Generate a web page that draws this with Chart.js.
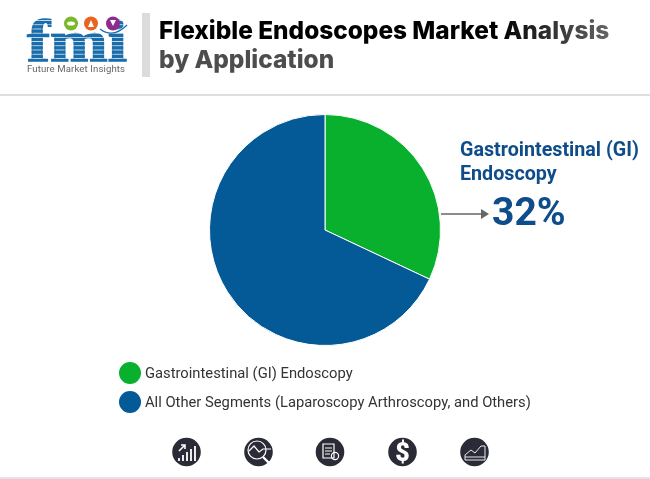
<!DOCTYPE html>
<html><head><meta charset="utf-8">
<script src="https://cdn.jsdelivr.net/npm/chart.js@4"></script>
<style>
html,body{margin:0;padding:0;background:#fff;width:650px;height:479px;overflow:hidden;font-family:Roboto,sans-serif}
.a{position:absolute;white-space:nowrap}
#c{position:absolute;left:0;top:0}
.dot{position:absolute;width:22px;height:22px;border-radius:50%}
.leg{font-size:14.75px;color:#333}
.t{font-family:Inter,sans-serif;font-weight:800;font-size:24.4px;line-height:29px}
</style></head><body>
<canvas id="c" width="650" height="479" style="width:650px;height:479px"></canvas>

<svg class="a" style="left:25px;top:15px" width="110" height="62" viewBox="25 15 110 62">
  <defs><pattern id="st" width="4" height="4.2" patternUnits="userSpaceOnUse"><rect width="4" height="3.5" fill="#1a6dab"/></pattern></defs>
  <text x="27" y="61" font-family="Liberation Serif" font-weight="700" font-size="60" textLength="100" lengthAdjust="spacingAndGlyphs" fill="url(#st)" stroke="url(#st)" stroke-width="1.4">fmi</text>
  <circle cx="71" cy="23.5" r="7" fill="#7ab929"/><ellipse cx="71" cy="23.5" rx="4" ry="2" fill="#fff"/>
  <circle cx="91" cy="23.5" r="7" fill="#e8641f"/><path d="M88 27l3-7 3 7z" fill="#fff"/>
  <circle cx="113" cy="23.5" r="7" fill="#8e2c8e"/><path d="M110 20h6l-3 6z" fill="#fff"/>
  <path d="M100 29q13 10 27-4" fill="none" stroke="#1a6dab" stroke-width="1.2"/>
  <text x="27" y="72" font-family="Roboto" font-size="9.6" fill="#666" textLength="98">Future Market Insights</text>
</svg>
<div class="a" style="left:142px;top:13px;width:8px;height:64px;background:#dcdcdc"></div>
<div class="a t" style="left:159px;top:16px;background:linear-gradient(90deg,#000 0,#000 340px,#666 450px);-webkit-background-clip:text;background-clip:text;color:transparent">Flexible Endoscopes Market Analysis</div>
<div class="a t" style="left:159px;top:45px;color:#4d4d4d">by Application</div>
<div class="a" style="left:0;top:94px;width:650px;height:2px;background:#dedede"></div>

<div class="a" style="left:460px;top:138px;font-size:19.7px;font-weight:700;line-height:24px;color:#0f4c8a">Gastrointestinal (GI)<br>Endoscopy</div>
<svg class="a" style="left:440px;top:205px" width="50" height="18"><path d="M1 9H42" stroke="#666" stroke-width="1.6"/><path d="M41 4l8 5-8 5z" fill="#666"/></svg>
<div class="a" style="left:492px;top:190px;font-size:39px;font-weight:700;line-height:44px;color:#0f4c8a">32%</div>

<div class="dot" style="left:119px;top:362px;background:#08b02e"></div>
<div class="a leg" style="left:145px;top:364px">Gastrointestinal (GI) Endoscopy</div>
<div class="dot" style="left:119px;top:391px;background:#035a96"></div>
<div class="a leg" style="left:145px;top:393px">All Other Segments (Laparoscopy Arthroscopy, and Others)</div>

<svg class="a" style="left:0;top:430px" width="650" height="40" fill="none" stroke="#fff" stroke-width="1.2">
  <g fill="#2b2b38" stroke="none"><circle cx="186.5" cy="22" r="14.3"/><circle cx="258.5" cy="22" r="14.3"/><circle cx="330" cy="22" r="14.3"/><circle cx="402.5" cy="22" r="14.3"/><circle cx="474.5" cy="22" r="14.3"/></g>
  <path d="M179 31v-3M183 31v-6M187 31v-9M191 31v-12M195 31v-15" stroke-width="1.8"/><path d="M179 21l6-6M181 15h4v4" stroke-width="1.6"/>
  <circle cx="257" cy="20" r="9"/><path d="M249 21l5-5 5 6 4-3h8"/><path d="M263 27l6 6" stroke-width="2.4"/>
  <path d="M323 14h11v14h-11zM325 18h7M325 21h7M325 24h5"/><circle cx="335" cy="26" r="3.6"/>
  <text x="402.5" y="31" text-anchor="middle" font-family="Roboto" font-weight="900" font-size="25" fill="#fff" stroke="none">$</text>
  <path d="M465 30v-5l6-5 4 3 6-7 4 0v14zM465 27h20" stroke-width=".9"/>
</svg>
<div class="a" style="left:0;top:477px;width:650px;height:2px;background:#e4e4e4"></div>

<script>
const categories = ["Gastrointestinal (GI) Endoscopy", "All Other Segments (Laparoscopy Arthroscopy, and Others)"];
const shares = [32, 68];
const sliceColors = ["#08b02e", "#035a96"];
new Chart(document.getElementById("c"), {
  type: "pie",
  data: { labels: categories, datasets: [{ data: shares, backgroundColor: sliceColors, borderColor: "#fff", borderWidth: 1 }] },
  options: {
    responsive: false, animation: false, devicePixelRatio: 1,
    layout: { padding: { left: 209, right: 209, top: 114, bottom: 133 } },
    plugins: { legend: { display: false }, tooltip: { enabled: false } }
  }
});
</script>
</body></html>
